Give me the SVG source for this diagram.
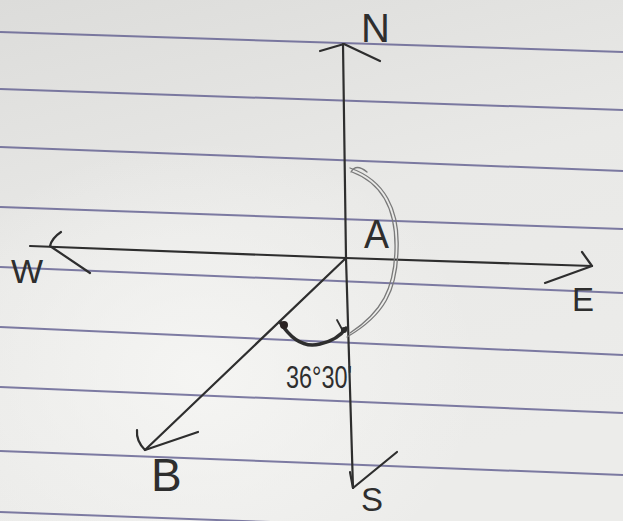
<svg xmlns="http://www.w3.org/2000/svg" width="623" height="521" viewBox="0 0 623 521">
  <defs>
    <linearGradient id="paper" x1="0" y1="0" x2="0.3" y2="1">
      <stop offset="0" stop-color="#dcdcda"/>
      <stop offset="0.5" stop-color="#e9e9e7"/>
      <stop offset="1" stop-color="#ececea"/>
    </linearGradient>
    <radialGradient id="glow" cx="0.32" cy="0.72" r="0.45">
      <stop offset="0" stop-color="#f6f6f4" stop-opacity="0.9"/>
      <stop offset="1" stop-color="#f6f6f4" stop-opacity="0"/>
    </radialGradient>
    <style>
      .rule { stroke: #5f5c8e; stroke-width: 2; fill: none; opacity: 0.8; }
      .pen { stroke: #2e2e2e; stroke-width: 2.2; fill: none; stroke-linecap: round; stroke-linejoin: round; }
      .pencil { stroke: #7a7a7a; stroke-width: 1.3; fill: none; stroke-linecap: round; }
      .lbl { font-family: "Liberation Sans", "DejaVu Sans", sans-serif; fill: #2e2e2e; }
    </style>
  </defs>

  <rect width="623" height="521" fill="url(#paper)"/>
  <rect width="623" height="521" fill="url(#glow)"/>

  <g id="ruled-lines">
    <line class="rule" x1="0" y1="32" x2="623" y2="52"/>
    <line class="rule" x1="0" y1="89" x2="623" y2="110"/>
    <line class="rule" x1="0" y1="147" x2="623" y2="171"/>
    <line class="rule" x1="0" y1="207" x2="623" y2="229"/>
    <line class="rule" x1="0" y1="267" x2="623" y2="293"/>
    <line class="rule" x1="0" y1="327" x2="623" y2="355"/>
    <line class="rule" x1="0" y1="387" x2="623" y2="413"/>
    <line class="rule" x1="0" y1="451" x2="623" y2="475"/>
    <line class="rule" x1="0" y1="512" x2="623" y2="535"/>
  </g>

  <g id="connectors">
    <!-- North-South axis -->
    <path class="pen" d="M343,44 L346,258 L353,488"/>
    <path class="pen" d="M320,51 L344,44 L380,61"/>
    <path class="pen" d="M350,472 L353,488 L397,452"/>
    <!-- West-East axis -->
    <path class="pen" d="M30,246 L346,258 L592,266"/>
    <path class="pen" d="M61,232 Q52,238 50,246 L90,273"/>
    <path class="pen" d="M582,252 L592,266 L545,283"/>
    <!-- bearing line to B -->
    <path class="pen" d="M346,258 L145,450"/>
    <path class="pen" d="M137,430 Q136,441 145,450 L198,432"/>
    <!-- pencil arc from north (A) -->
    <path class="pencil" d="M350,168 C385,180 400,210 398,250 C397,290 385,315 347,337"/>
    <path class="pencil" d="M352,172 C384,184 396,212 395,250 C394,288 382,312 350,333"/>
    <path class="pencil" d="M351,172 Q356,163 367,172"/>
    <!-- dark angle arc -->
    <path class="pen" style="stroke-width:3.4" d="M280,322 Q298,350 320,344 Q338,340 346,328"/>
    <path class="pen" style="stroke-width:1.8" d="M337,320 L343,331"/>
    <circle cx="284" cy="325" r="4" fill="#2a2222"/>
    <circle cx="344" cy="330" r="3" fill="#2a2a2a"/>
  </g>

  <g id="node-N"><text class="lbl" x="361" y="42" font-size="40">N</text></g>
  <g id="node-W"><text class="lbl" x="11" y="283" font-size="34">W</text></g>
  <g id="node-E"><text class="lbl" x="572" y="311" font-size="33">E</text></g>
  <g id="node-S"><text class="lbl" x="361" y="511" font-size="33">S</text></g>
  <g id="node-A"><text class="lbl" x="364" y="248" font-size="40" textLength="25" lengthAdjust="spacingAndGlyphs">A</text></g>
  <g id="node-B"><text class="lbl" x="151" y="491" font-size="46">B</text></g>
  <g id="angle-label"><text class="lbl" x="286" y="388" font-size="31" textLength="66" lengthAdjust="spacingAndGlyphs">36°30'</text></g>
</svg>
